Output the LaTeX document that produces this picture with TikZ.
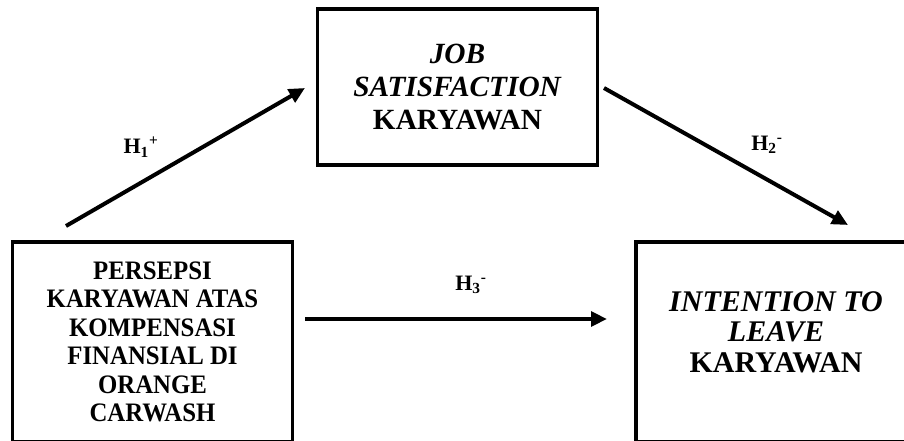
\documentclass[tikz,border=0pt]{standalone}
\usepackage{fontspec}
\setmainfont{Liberation Serif}
\newfontfamily\narrowserif[FakeStretch=0.93]{Liberation Serif}
\usetikzlibrary{arrows.meta}

\begin{document}
\begin{tikzpicture}[x=0.75pt,y=0.75pt,yscale=-1,xscale=1,
  varbox/.style={draw, line width=2.4pt, minimum width=210pt, inner sep=0pt, align=center},
  boxtext/.style={inner sep=0pt, align=center},
  hyparrow/.style={line width=3pt, -{Triangle[length=12pt,width=11pt]}},
  hyplabel/.style={inner sep=0.75pt, font=\fontsize{16.5}{18}\selectfont\bfseries}]
%set diagram left start at 0, and has height of 441
\clip (0,0) rectangle (904,441);

%Shape: Rectangle [job satisfaction]
\node[varbox, minimum height=117pt, font=\fontsize{22}{24.4}\selectfont\bfseries] (jobsat) at (457.5,87) {\textit{JOB}\\\textit{SATISFACTION}\\KARYAWAN};
%Shape: Rectangle [persepsi kompensasi]
\node[varbox, minimum height=150pt, font=\narrowserif\fontsize{20}{21.4}\selectfont\bfseries] (persepsi) at (152.5,342) {PERSEPSI\\KARYAWAN ATAS\\KOMPENSASI\\FINANSIAL DI\\ORANGE\\CARWASH};
%Shape: Rectangle [intention to leave]
\node[varbox, minimum height=150pt] (intention) at (776,342) {};
% Text Node
\node[boxtext, font=\fontsize{22.5}{23}\selectfont\bfseries] (intentiontext) at (776,332) {\textit{INTENTION TO}\\\textit{LEAVE}\\KARYAWAN};

%Straight Lines [H1]
\coordinate (h1start) at (66,226);
\coordinate (h1end) at (305,88);
\draw[hyparrow] (h1start) -- (h1end);
%Straight Lines [H2]
\coordinate (h2start) at (604,88);
\coordinate (h2end) at (848,225);
\draw[hyparrow] (h2start) -- (h2end);
%Straight Lines [H3]
\coordinate (h3start) at (305,319);
\coordinate (h3end) at (607,319);
\draw[hyparrow] (h3start) -- (h3end);

% Text Node
\node[hyplabel] (h1label) at (141,147) {H\textsubscript{1}\textsuperscript{+}};
% Text Node
\node[hyplabel] (h2label) at (767,145) {H\textsubscript{2}\textsuperscript{-}};
% Text Node
\node[hyplabel] (h3label) at (471,285) {H\textsubscript{3}\textsuperscript{-}};

\end{tikzpicture}
\end{document}
